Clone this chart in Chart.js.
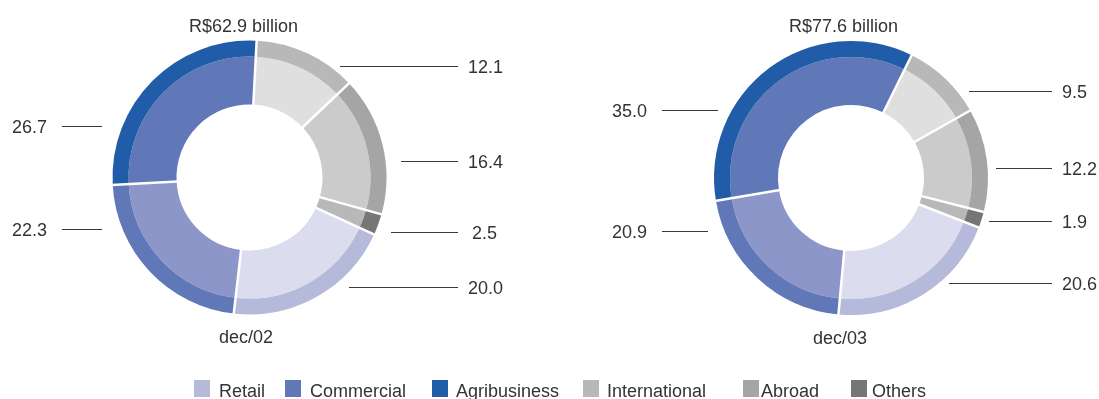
<!DOCTYPE html>
<html><head><meta charset="utf-8">
<script src="https://cdn.jsdelivr.net/npm/chart.js@4"></script>
<style>
html,body{margin:0;padding:0;background:#fff;}
#wrap{position:relative;width:1099px;height:399px;overflow:hidden;}
canvas{position:absolute;left:0;top:0;}
</style></head><body>
<div id="wrap"><canvas id="c1" width="1099" height="399"></canvas><canvas id="c2" width="1099" height="399"></canvas></div>
<script>
// ---- data ----
const categories = ['International', 'Abroad', 'Others', 'Retail', 'Commercial', 'Agribusiness'];
const legendLabels = ['Retail', 'Commercial', 'Agribusiness', 'International', 'Abroad', 'Others'];
const values2002 = [12.1, 16.4, 2.5, 20.0, 22.3, 26.7];
const values2003 = [9.5, 12.2, 1.9, 20.6, 20.9, 35.0];
const totals = ['R$62.9 billion', 'R$77.6 billion'];
const periods = ['dec/02', 'dec/03'];

// ---- styles ----
const outerColors = {International:'#b8b8b8', Abroad:'#a5a5a5', Others:'#767676', Retail:'#b5b9da', Commercial:'#6078b8', Agribusiness:'#205ca8'};
const innerColors = {International:'#dfdfdf', Abroad:'#cbcbcb', Others:'#b8b8b8', Retail:'#dcdcef', Commercial:'#8c96c8', Agribusiness:'#6078b8'};
const FONT = '18px "Liberation Sans", Arial, sans-serif';
const TEXT = '#333333';
const LINE = '#3a3a3a';

const sepPlugin = {
  id: 'sep',
  afterDatasetsDraw(chart) {
    const ctx = chart.ctx;
    const outerMeta = chart.getDatasetMeta(0), innerMeta = chart.getDatasetMeta(1);
    ctx.save();
    ctx.strokeStyle = '#ffffff';
    ctx.lineWidth = 2.5;
    innerMeta.data.forEach((arc, i) => {
      const p = arc.getProps(['x', 'y', 'startAngle', 'innerRadius'], true);
      const R = outerMeta.data[i].getProps(['outerRadius'], true).outerRadius;
      const c = Math.cos(p.startAngle), s = Math.sin(p.startAngle);
      ctx.beginPath();
      ctx.moveTo(p.x + c * (p.innerRadius - 1), p.y + s * (p.innerRadius - 1));
      ctx.lineTo(p.x + c * (R + 1), p.y + s * (R + 1));
      ctx.stroke();
    });
    ctx.restore();
  }
};

function annotPlugin(cfg, values) {
  return {
    id: 'annot',
    afterDraw(chart) {
      const ctx = chart.ctx;
      ctx.save();
      ctx.font = FONT;
      ctx.fillStyle = TEXT;
      ctx.textBaseline = 'alphabetic';
      ctx.textAlign = 'center';
      ctx.fillText(cfg.title, cfg.titleX, cfg.titleY);
      ctx.fillText(cfg.period, cfg.periodX, cfg.periodY);
      ctx.strokeStyle = LINE;
      ctx.lineWidth = 1.2;
      cfg.labels.forEach(l => {
        ctx.beginPath();
        ctx.moveTo(l.x1, l.y + 0.5);
        ctx.lineTo(l.x2, l.y + 0.5);
        ctx.stroke();
        const txt = values[l.i].toFixed(1);
        if (l.side === 'right') {
          ctx.textAlign = 'left';
          ctx.fillText(txt, l.x2 + (l.dx || 10), l.y + 6.5);
        } else {
          ctx.textAlign = 'right';
          ctx.fillText(txt, l.x1 - 15, l.y + 6.5);
        }
      });
      ctx.restore();
    }
  };
}

const legendPlugin = {
  id: 'customLegend',
  afterDraw(chart) {
    const ctx = chart.ctx;
    const boxX = [194, 285, 432, 583, 743, 851];
    const textX = [219, 310, 456, 607, 761, 872];
    ctx.save();
    ctx.font = FONT;
    ctx.textAlign = 'left';
    ctx.textBaseline = 'alphabetic';
    legendLabels.forEach((name, i) => {
      ctx.fillStyle = outerColors[name];
      ctx.fillRect(boxX[i], 380, 16, 17);
      ctx.fillStyle = TEXT;
      ctx.fillText(name, textX[i], 397);
    });
    ctx.restore();
  }
};

function makeChart(id, values, pad, rotation, annot, extra) {
  return new Chart(document.getElementById(id), {
    type: 'doughnut',
    data: {
      labels: categories,
      datasets: [
        {data: values, backgroundColor: categories.map(c => outerColors[c]), borderWidth: 0, hoverBorderWidth: 0, offset: 0, hoverOffset: 0, weight: 1},
        {data: values, backgroundColor: categories.map(c => innerColors[c]), borderWidth: 0, hoverBorderWidth: 0, offset: 0, hoverOffset: 0, weight: 3}
      ]
    },
    options: {
      responsive: false,
      animation: false,
      events: [],
      cutout: '53.3%',
      rotation: rotation,
      layout: {padding: pad},
      plugins: {legend: {display: false}, tooltip: {enabled: false}}
    },
    plugins: [sepPlugin, annotPlugin(annot, values)].concat(extra || [])
  });
}

makeChart('c1', values2002, {left: 112.5, top: 40.5, right: 712.5, bottom: 84.5}, 3, {
  title: totals[0], titleX: 243.5, titleY: 31.5,
  period: periods[0], periodX: 246, periodY: 343,
  labels: [
    {i: 0, y: 66, x1: 340, x2: 458, side: 'right'},
    {i: 1, y: 161, x1: 401, x2: 458, side: 'right'},
    {i: 2, y: 232, x1: 391, x2: 458, side: 'right', dx: 14},
    {i: 3, y: 287, x1: 349, x2: 458, side: 'right'},
    {i: 4, y: 229, x1: 62, x2: 102, side: 'left'},
    {i: 5, y: 126, x1: 62, x2: 102, side: 'left'}
  ]
}, [legendPlugin]);

makeChart('c2', values2003, {left: 714, top: 41, right: 111, bottom: 84}, 26.3, {
  title: totals[1], titleX: 843.5, titleY: 31.5,
  period: periods[1], periodX: 840, periodY: 344,
  labels: [
    {i: 0, y: 91, x1: 969, x2: 1052, side: 'right'},
    {i: 1, y: 168, x1: 996, x2: 1052, side: 'right'},
    {i: 2, y: 221, x1: 989, x2: 1052, side: 'right'},
    {i: 3, y: 283, x1: 949, x2: 1052, side: 'right'},
    {i: 4, y: 231, x1: 662, x2: 708, side: 'left'},
    {i: 5, y: 110, x1: 662, x2: 718, side: 'left'}
  ]
});
</script>
</body></html>
